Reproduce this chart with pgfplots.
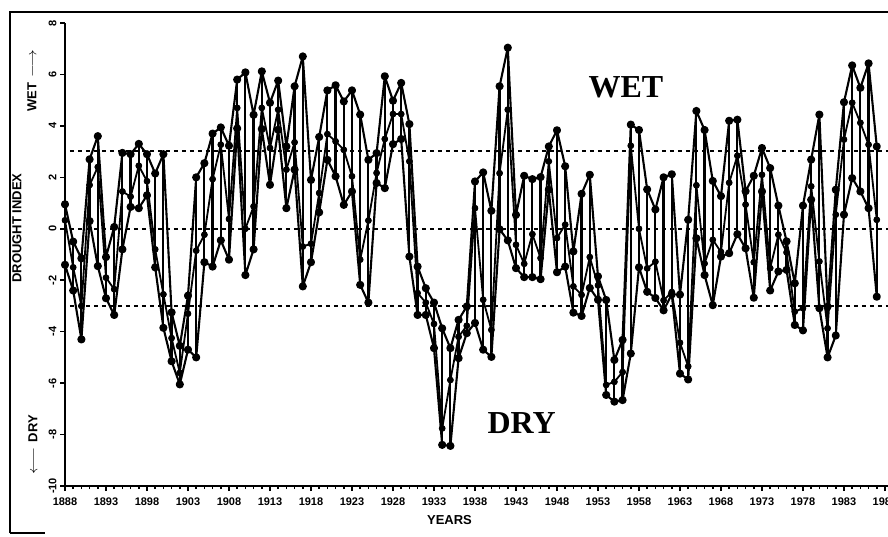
\documentclass[border=0pt]{standalone}
\usepackage{pgfplots}
\pgfplotsset{compat=1.18}
\usepackage{pgfplotstable}
\usepackage{fontspec}
\setmainfont{Liberation Sans}
\newfontfamily\bigserif{Liberation Serif}
\usetikzlibrary{calc}

% yearly drought index: top, middle and bottom value of each year's bar
\pgfplotstableread{
yr a b c
1888 0.95 0.33 -1.40
1889 -0.50 -1.50 -2.40
1890 -1.15 -3.00 -4.30
1891 2.70 1.70 0.30
1892 3.60 2.40 -1.45
1893 -1.10 -1.90 -2.70
1894 0.07 -2.35 -3.35
1895 2.95 1.45 -0.80
1896 2.90 1.25 0.85
1897 3.30 2.45 0.80
1898 2.90 1.85 1.30
1899 2.15 -0.80 -1.50
1900 2.90 -2.55 -3.85
1901 -3.25 -4.25 -5.15
1902 -4.55 -5.60 -6.05
1903 -2.60 -3.30 -4.70
1904 2.00 -0.85 -5.00
1905 2.55 -0.23 -1.30
1906 3.70 1.93 -1.47
1907 3.94 3.27 -0.45
1908 3.23 0.38 -1.20
1909 5.80 4.70 3.90
1910 6.08 0.00 -1.80
1911 4.43 0.87 -0.80
1912 6.12 4.70 3.88
1913 4.90 3.14 1.71
1914 5.76 4.63 3.85
1915 3.20 2.30 0.80
1916 5.54 3.36 2.30
1917 6.70 -0.69 -2.24
1918 1.90 -0.58 -1.30
1919 3.57 1.39 0.64
1920 5.38 3.68 2.68
1921 5.58 3.40 2.04
1922 4.95 3.07 0.93
1923 5.38 2.04 1.45
1924 4.44 -1.20 -2.18
1925 2.68 0.32 -2.87
1926 2.94 2.17 1.78
1927 5.93 3.49 1.58
1928 4.98 4.46 3.29
1929 5.67 4.46 3.49
1930 4.07 2.62 -1.08
1931 -1.47 -2.50 -3.35
1932 -2.31 -2.87 -3.35
1933 -2.87 -3.70 -4.64
1934 -3.87 -7.76 -8.40
1935 -4.64 -5.88 -8.44
1936 -3.54 -4.20 -5.03
1937 -3.02 -3.77 -4.06
1938 1.84 0.80 -3.66
1939 2.19 -2.76 -4.70
1940 0.70 -3.93 -4.98
1941 5.54 2.16 -0.02
1942 7.04 4.63 -0.45
1943 0.54 -0.62 -1.53
1944 2.06 -1.36 -1.88
1945 1.93 -0.21 -1.88
1946 2.01 -1.14 -1.96
1947 3.20 2.62 1.52
1948 3.83 -0.36 -1.69
1949 2.43 0.16 -1.47
1950 -0.88 -2.24 -3.26
1951 1.36 -2.57 -3.39
1952 2.10 -1.10 -2.30
1953 -1.85 -2.20 -2.76
1954 -2.77 -6.07 -6.46
1955 -5.10 -5.95 -6.72
1956 -4.32 -5.57 -6.66
1957 4.05 3.23 -4.85
1958 3.84 0.00 -1.50
1959 1.53 -1.54 -2.45
1960 0.75 -1.28 -2.69
1961 2.00 -2.78 -3.17
1962 2.12 -2.46 -2.55
1963 -2.56 -4.43 -5.63
1964 0.35 -5.35 -5.86
1965 4.58 1.69 -0.37
1966 3.84 -1.35 -1.80
1967 1.86 -0.43 -2.97
1968 1.27 -0.90 -1.08
1969 4.20 1.79 -0.95
1970 4.24 2.84 -0.21
1971 1.46 0.94 -0.76
1972 2.06 -1.30 -2.68
1973 3.14 2.10 1.45
1974 2.36 -1.53 -2.40
1975 0.90 -0.23 -1.66
1976 -0.49 -0.92 -1.60
1977 -2.12 -3.22 -3.74
1978 0.90 -3.09 -3.95
1979 2.69 1.65 1.13
1980 4.44 -1.27 -3.09
1981 -3.03 -3.87 -5.00
1982 1.52 0.55 -4.15
1983 4.92 3.47 0.55
1984 6.35 4.90 1.97
1985 5.48 4.12 1.45
1986 6.43 3.27 0.80
1987 3.20 0.35 -2.64
}\drought

\begin{document}
\begin{tikzpicture}
\begin{axis}[
    scale only axis,
    width=823pt, height=463pt,
    xmin=1888, xmax=1988.37,
    ymin=-10, ymax=8,
    axis x line*=bottom, axis y line*=left,
    axis line style={line width=2pt},
    xtick={1888,1893,...,1988},
    minor x tick num=4,
    ytick={-10,-8,...,8},
    tick align=outside,
    major tick length=5pt, minor tick length=3pt,
    every tick/.style={black, line width=1.6pt},
    /pgf/number format/assume math mode=true,
    /pgf/number format/1000 sep={},
    tick label style={font=\bfseries\fontsize{11}{12}\selectfont},
    xticklabel style={yshift=-3pt},
    yticklabel style={rotate=90, anchor=south},
    every error bar/.style={black, line width=2.2pt},
    clip=false,
]
\coordinate (o) at (rel axis cs:0,0);

% reference levels
\addplot[black, line width=1.9pt, dash pattern=on 4.5pt off 3.5pt] coordinates {(1888.6,3.02) (1988.37,3.02)};
\addplot[black, line width=1.9pt, dash pattern=on 4.5pt off 3.5pt] coordinates {(1888.6,0) (1988.37,0)};
\addplot[black, line width=1.9pt, dash pattern=on 4.5pt off 3.5pt] coordinates {(1888.6,-3) (1988.37,-3)};

% yearly range as vertical bars
\addplot[black, line width=2.2pt, only marks, mark=none,
    error bars/.cd, y dir=both, y explicit, error mark=none]
    table[x=yr, y=b,
          y error plus expr=\thisrow{a}-\thisrow{b},
          y error minus expr=\thisrow{b}-\thisrow{c}] {\drought};
% middle, top and bottom values
\addplot[black, line width=1.8pt, line join=round, mark=*, mark size=2.4pt] table[x=yr, y=b] {\drought};
\addplot[black, line width=2.1pt, line join=round, mark=*, mark size=3pt] table[x=yr, y=a] {\drought};
\addplot[black, line width=2.1pt, line join=round, mark=*, mark size=3pt] table[x=yr, y=c] {\drought};

\node[font=\bigserif\bfseries\fontsize{32}{34}\selectfont] at (axis cs:1956.4,5.5) {WET};
\node[font=\bigserif\bfseries\fontsize{32}{34}\selectfont] at (axis cs:1943.7,-7.55) {DRY};
\end{axis}

\begin{scope}[font=\bfseries\fontsize{13}{14}\selectfont]
\node[rotate=90] at ($(o)+(-48pt,258pt)$) {DROUGHT INDEX};
\node[rotate=90] at ($(o)+(-33pt,405pt)$) {WET\, \scalebox{1.4}[1.2]{$\longrightarrow$}};
\node[rotate=90] at ($(o)+(-32pt,41pt)$) {\scalebox{1.4}[1.2]{$\longleftarrow$}\, DRY};
\node at ($(o)+(384.5pt,-34pt)$) {YEARS};
\end{scope}

% outer frame
\draw[line width=2pt] ($(o)+(-55pt,-47pt)$) -- ($(o)+(-55pt,473.5pt)$) -- ($(o)+(823pt,473.5pt)$);
\draw[line width=2pt] ($(o)+(-55pt,-47pt)$) -- ($(o)+(-20pt,-47pt)$);

\pgfresetboundingbox
\useasboundingbox ($(o)+(-65pt,-50pt)$) rectangle ($(o)+(823pt,486pt)$);
\end{tikzpicture}
\end{document}
